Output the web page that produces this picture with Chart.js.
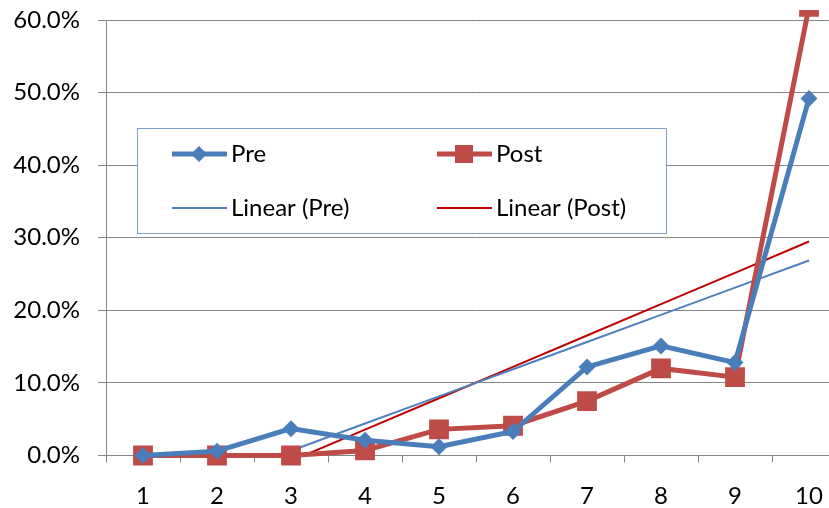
<!DOCTYPE html>
<html>
<head>
<meta charset="utf-8">
<script src="https://cdn.jsdelivr.net/npm/chart.js@4.4.0/dist/chart.umd.min.js"></script>
<style>
    html, body { margin: 0; padding: 0; background: #fff; overflow: hidden; }
    #wrap { position: relative; width: 860px; height: 508px; }
</style>
</head>
<body>
<div id="wrap"><canvas id="myChart"></canvas></div>
<script>
// Datos (porcentajes)
const categorias = ['1', '2', '3', '4', '5', '6', '7', '8', '9', '10'];
const pre = [0, 0.6, 3.7, 2.1, 1.2, 3.3, 12.2, 15.1, 12.8, 49.2];
const post = [0, 0, 0, 0.7, 3.6, 4.1, 7.5, 12.0, 10.8, 61.8];
const ticksY = [0, 10, 20, 30, 40, 50, 60];

// Línea de tendencia lineal (mínimos cuadrados) como en Excel
function tendencia(valores) {
    const n = valores.length;
    const xs = valores.map((v, i) => i + 1);
    const mx = xs.reduce((a, b) => a + b, 0) / n;
    const my = valores.reduce((a, b) => a + b, 0) / n;
    let sxy = 0, sxx = 0;
    xs.forEach((x, i) => {
        sxy += (x - mx) * (valores[i] - my);
        sxx += (x - mx) * (x - mx);
    });
    const m = sxy / sxx;
    return xs.map(x => my + m * (x - mx));
}

const fuente = { family: 'Lato', size: 24 };
const gris = '#868686';

// Leyenda dentro del área, con caja
const leyendaCaja = {
    id: 'leyendaCaja',
    afterDraw(chart) {
        const ctx = chart.ctx;
        ctx.save();
        ctx.fillStyle = '#fff';
        ctx.fillRect(137, 128, 530, 106);
        ctx.strokeStyle = '#7c9fcc';
        ctx.lineWidth = 1;
        ctx.strokeRect(137.5, 128.5, 529, 105);

        const cols = [172, 437];
        const filas = [154, 208];
        chart.data.datasets.forEach((ds, i) => {
            const x = cols[i % 2];
            const y = filas[Math.floor(i / 2)];
            ctx.strokeStyle = ds.borderColor;
            ctx.lineWidth = ds.borderWidth;
            ctx.beginPath();
            ctx.moveTo(x, y);
            ctx.lineTo(x + 55, y);
            ctx.stroke();
            const cx = x + 27;
            ctx.fillStyle = ds.borderColor;
            if (ds.pointStyle === 'rectRot') {
                ctx.beginPath();
                ctx.moveTo(cx, y - 8);
                ctx.lineTo(cx + 8, y);
                ctx.lineTo(cx, y + 8);
                ctx.lineTo(cx - 8, y);
                ctx.closePath();
                ctx.fill();
            } else if (ds.pointStyle === 'rect') {
                ctx.fillRect(cx - 9, y - 9, 18, 18);
            }
            ctx.fillStyle = '#000';
            ctx.font = '24px Lato';
            ctx.textBaseline = 'middle';
            ctx.fillText(ds.label, x + 59, y);
        });
        ctx.restore();
    }
};

document.addEventListener('DOMContentLoaded', function () {
    const ctx = document.getElementById('myChart').getContext('2d');

    const myChart = new Chart(ctx, {
        type: 'line',
        data: {
            labels: categorias,
            datasets: [{
                label: 'Pre',
                data: pre,
                borderColor: '#4a7ebb',
                backgroundColor: '#4a7ebb',
                borderWidth: 5,
                pointStyle: 'rectRot',
                pointRadius: 8.5,
                pointBorderWidth: 0,
                clip: { left: 20, right: 20, top: 10, bottom: 20 }
            }, {
                label: 'Post',
                data: post,
                borderColor: '#be4b48',
                backgroundColor: '#be4b48',
                borderWidth: 5,
                pointStyle: 'rect',
                pointRadius: 14,
                pointBorderWidth: 0,
                clip: { left: 20, right: 20, top: 10, bottom: 20 }
            }, {
                label: 'Linear (Pre)',
                data: tendencia(pre),
                borderColor: '#4f81bd',
                borderWidth: 2,
                pointRadius: 0
            }, {
                label: 'Linear (Post)',
                data: tendencia(post),
                borderColor: '#c00000',
                borderWidth: 2,
                pointRadius: 0
            }]
        },
        options: {
            responsive: true,
            maintainAspectRatio: false,
            animation: false,
            layout: { padding: { top: 20, right: 11, left: 0, bottom: 0 } },
            plugins: {
                legend: { display: false },
                tooltip: { enabled: false }
            },
            scales: {
                x: {
                    offset: true,
                    grid: { offset: true, drawOnChartArea: false, tickLength: 7, color: gris },
                    border: { color: gris },
                    ticks: { font: fuente, color: '#000', padding: 19, maxRotation: 0 },
                    afterFit: s => { s.height = 52.5; s.paddingLeft = 0; s.paddingRight = 0; }
                },
                y: {
                    min: 0,
                    max: 60,
                    afterBuildTicks: s => { s.ticks = ticksY.map(v => ({ value: v })); },
                    ticks: {
                        font: fuente,
                        color: '#000',
                        padding: 18,
                        callback: v => v.toFixed(1) + '%'
                    },
                    grid: { color: gris, tickLength: 8 },
                    border: { color: gris },
                    afterFit: s => { s.width = 106; s.paddingTop = 0; s.paddingBottom = 0; }
                }
            }
        },
        plugins: [leyendaCaja]
    });
});
</script>
</body>
</html>
